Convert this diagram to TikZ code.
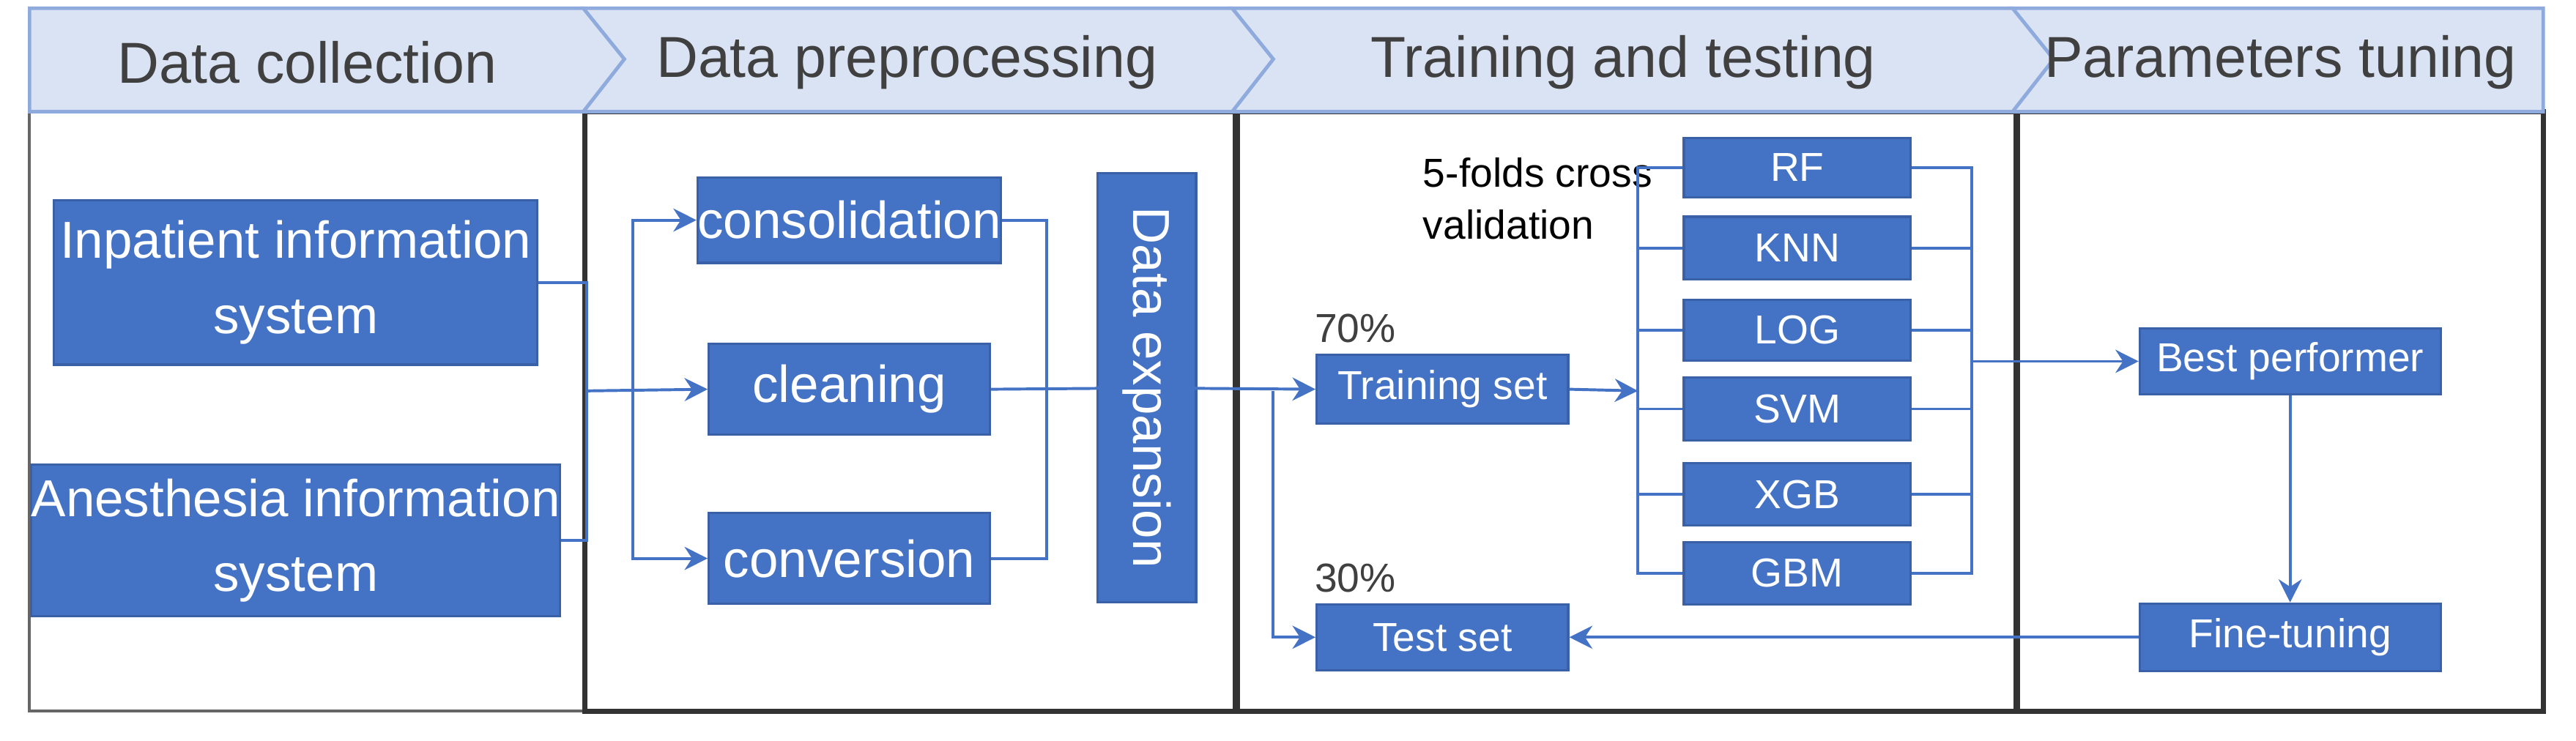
\documentclass[tikz,border=0pt]{standalone}
\usepackage{fontspec}
\setmainfont{Liberation Sans}
\usetikzlibrary{arrows.meta,positioning,calc}
\definecolor{boxblue}{HTML}{4472C4}
\definecolor{headfill}{HTML}{DAE3F3}
\definecolor{headline}{HTML}{8FAADC}
\definecolor{headtext}{HTML}{404040}
\tikzset{
  box/.style={fill=boxblue, draw=boxblue!85!black, text=white, inner sep=0pt,
    font=\fontsize{9}{11}\selectfont, align=center},
  small/.style={box, font=\fontsize{7}{8}\selectfont, minimum width=1.38cm},
  head/.style={fill=headfill, draw=headline, line width=0.6pt},
  headlabel/.style={text=headtext, font=\fontsize{10}{12}\selectfont},
  link/.style={draw=boxblue, line width=0.5pt},
  arr/.style={link, -{Stealth[length=4pt,width=4pt]}},
  panel/.style={draw=black!80, line width=0.9pt}
}
\begin{document}
\begin{tikzpicture}[x=0.01cm,y=-0.01cm]
  \useasboundingbox (0,0) rectangle (1568,451);

  % body panels
  \draw[draw=black!60, line width=0.5pt] (18,68) rectangle (1548,433);
  \draw[panel] (356,68) rectangle (752,433);
  \draw[panel] (753,68) rectangle (1227,433);
  \draw[panel] (1228,68) rectangle (1548,433);

  % header band
  \filldraw[head] (1225,5) -- (1548,5) -- (1548,68) -- (1225,68) -- (1250,36) -- cycle;
  \filldraw[head] (750,5) -- (1225,5) -- (1250,36) -- (1225,68) -- (750,68) -- (775,36) -- cycle;
  \filldraw[head] (355,5) -- (750,5) -- (775,36) -- (750,68) -- (355,68) -- (380,36) -- cycle;
  \filldraw[head] (18,5) -- (355,5) -- (380,36) -- (355,68) -- (18,68) -- cycle;
  \node[headlabel] (h1) at (187,38) {Data collection};
  \node[headlabel] (h2) at (552,38) {Data preprocessing};
  \node[headlabel] (h3) at (988,38) {Training and testing};
  \node[headlabel] (h4) at (1388,38) {Parameters tuning};

  % data sources
  \node[box, minimum width=2.94cm, minimum height=1.00cm] (inp) at (180,172) {Inpatient information\\[2pt] system};
  \node[box, minimum width=2.94cm, minimum height=0.92cm] (ane) at (180,329) {Anesthesia information\\[2pt] system};

  % preprocessing
  \node[box, minimum width=1.71cm, minimum height=0.52cm] (cons) at (517,134) {consolidation};
  \node[box, minimum width=1.71cm, minimum height=0.55cm] (clean) at (517,237) {cleaning};
  \node[box, minimum width=1.71cm, minimum height=0.55cm] (conv) at (517,340) {conversion};
  \node[box, minimum width=2.61cm, minimum height=0.60cm, rotate=-90] (dexp) at (698,236) {Data expansion};

  % training and testing
  \node[small, minimum width=1.53cm, minimum height=0.42cm] (train) at (878,237) {Training set};
  \node[small, minimum width=1.53cm, minimum height=0.40cm] (test) at (878,388) {Test set};
  \node[text=headtext, font=\fontsize{7}{8}\selectfont] (p70) at (825,200) {70\%};
  \node[text=headtext, font=\fontsize{7}{8}\selectfont] (p30) at (825,352) {30\%};
  \node[font=\fontsize{7}{9}\selectfont, align=left] (cv) at (936,121) {5-folds cross\\validation};

  \node[small, minimum height=0.36cm] (rf) at (1094,102) {RF};
  \node[small, minimum height=0.38cm] (knn) at (1094,151) {KNN};
  \node[small, minimum height=0.37cm] (log) at (1094,201) {LOG};
  \node[small, minimum height=0.38cm] (svm) at (1094,249) {SVM};
  \node[small, minimum height=0.38cm] (xgb) at (1094,301) {XGB};
  \node[small, minimum height=0.38cm] (gbm) at (1094,349) {GBM};

  % tuning
  \node[small, minimum width=1.83cm, minimum height=0.40cm] (best) at (1394,220) {Best performer};
  \node[small, minimum width=1.83cm, minimum height=0.41cm] (fine) at (1394,388) {Fine-tuning};

  % connectors
  \coordinate (j1) at (357,238);
  \coordinate (j2) at (385,238);
  \draw[link] (inp.east) -| (j1) |- (ane.east);
  \draw[arr] (j1) -- (clean.west);
  \draw[arr] (j2) |- (cons.west);
  \draw[arr] (j2) |- (conv.west);
  \coordinate (j3) at (637,238);
  \draw[link] (cons.east) -| (j3) |- (conv.east);
  \draw[arr] (clean.east) -- (dexp.north);
  \coordinate (j4) at (775,238);
  \draw[arr] (dexp.south) -- (train.west);
  \draw[arr] (j4) |- (test.west);
  \coordinate (j5) at (997,238);
  \draw[arr] (train.east) -- (j5);
  \draw[link] (rf.west) -| (j5) |- (gbm.west);
  \foreach \m in {knn,log,svm,xgb} \draw[link] (\m.west) -- (\m.west -| j5);
  \coordinate (j6) at (1200,220);
  \draw[link] (rf.east) -| (j6) |- (gbm.east);
  \foreach \m in {knn,log,svm,xgb} \draw[link] (\m.east) -- (\m.east -| j6);
  \draw[arr] (j6) -- (best.west);
  \draw[arr] (best.south) -- (fine.north);
  \draw[arr] (fine.west) -- (test.east);
\end{tikzpicture}
\end{document}
